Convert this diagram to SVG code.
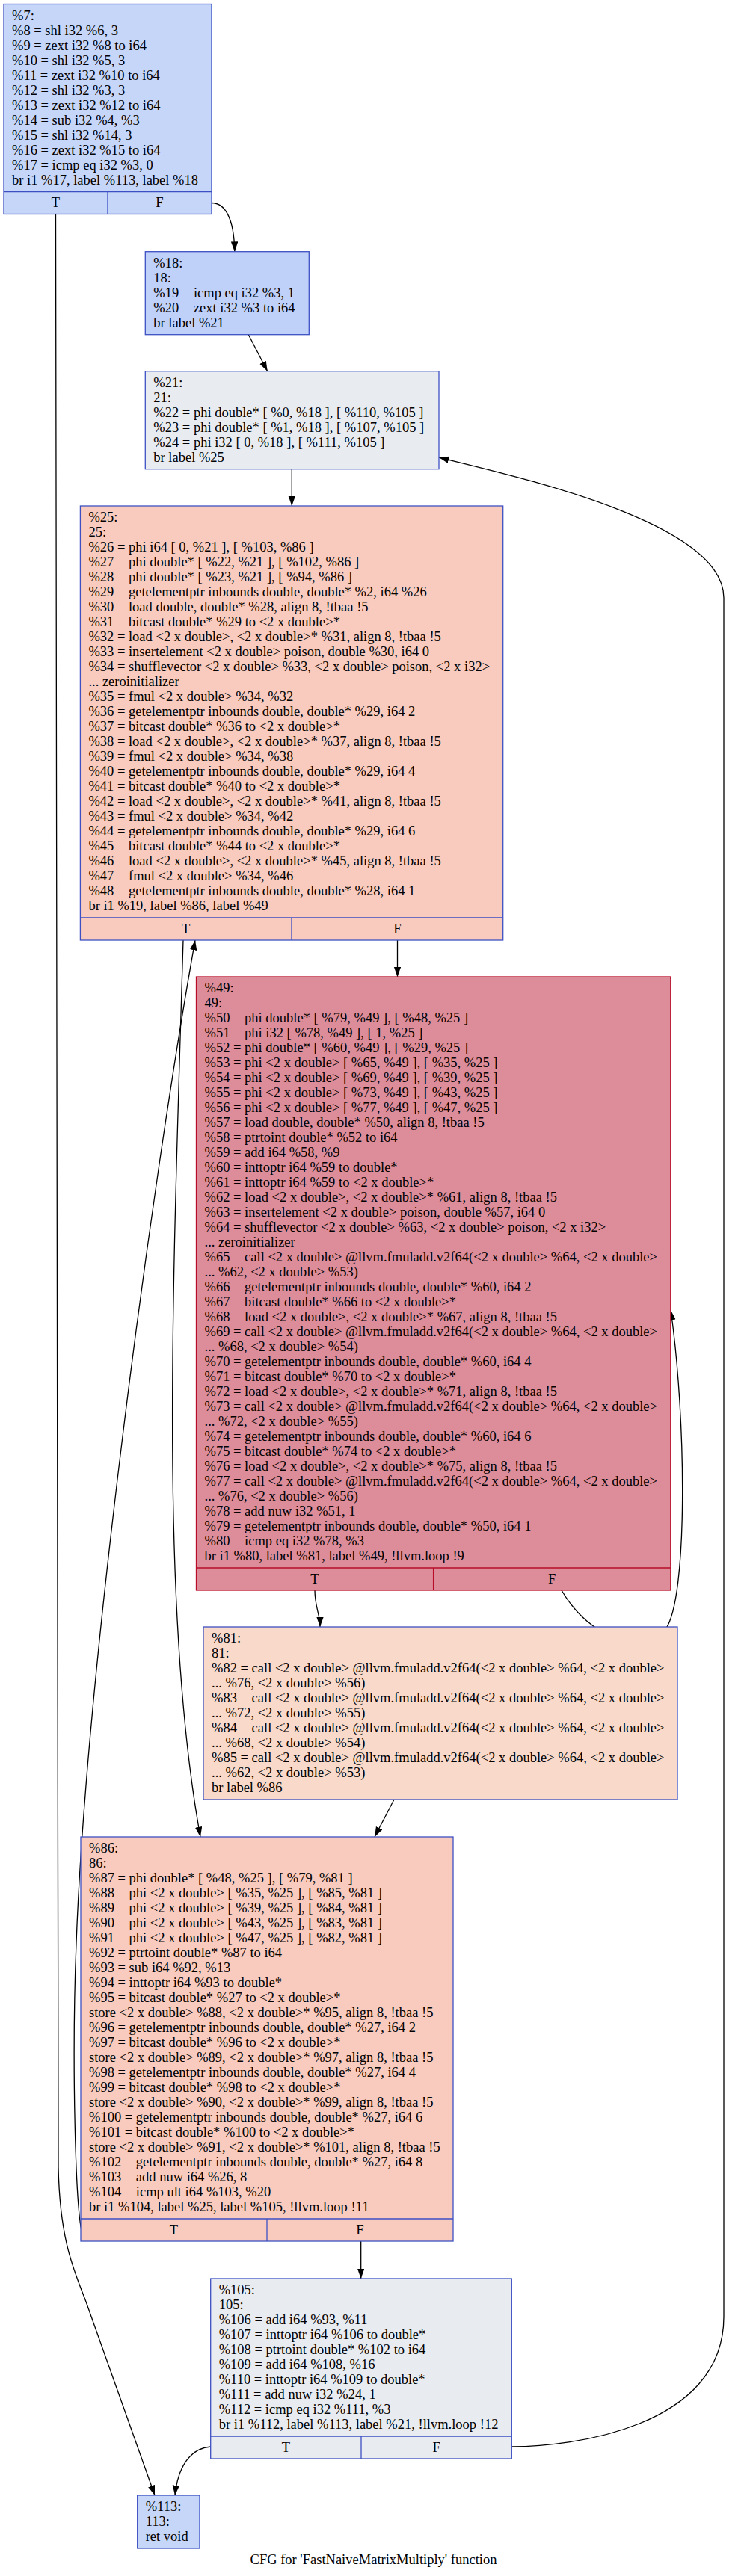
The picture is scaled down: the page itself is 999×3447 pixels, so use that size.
<svg xmlns="http://www.w3.org/2000/svg" width="999" height="3447" viewBox="0 0 999 3447" xml:space="preserve">
<style>
text{font-family:"Liberation Serif","Times New Roman",serif;font-size:18.5px;fill:#000}
.c{text-anchor:middle}
.nb{stroke:#3d50c3;stroke-width:1.3}
.nr{stroke:#b70d28;stroke-width:1.3}
.e{fill:none;stroke:#000;stroke-width:1.3;marker-end:url(#ah)}
</style>
<defs>
<marker id="ah" markerUnits="userSpaceOnUse" markerWidth="14" markerHeight="10" refX="13.3" refY="4.7" orient="auto">
<path d="M0,0 L13.3,4.7 L0,9.4 z" fill="#000"/>
</marker>
</defs>
<rect width="999" height="3447" fill="#fff"/>

<g id="edges">
<path class="e" d="M283,271.5 C300,271.5 313,290 313.8,336.7"/>
<path class="e" d="M74.5,286.5 C74.5,1500 76,2700 78,2900 C80,3000 100,3040 115,3080 L207,3339"/>
<path class="e" d="M332.3,447.7 L357.7,496.7"/>
<path class="e" d="M390.3,627.7 L390.3,677"/>
<path class="e" d="M531.5,1258 L531.5,1307"/>
<path class="e" d="M245,1258 C232,1700 212,2150 268,2458"/>
<path class="e" d="M112,2996 C100,2970 96,2750 102,2600 C115,2250 200,1600 261,1258"/>
<path class="e" d="M421,2128 C421,2150 428,2160 428,2177"/>
<path class="e" d="M751,2128 C790,2195 860,2215 890,2180 C920,2140 918,1900 897,1753"/>
<path class="e" d="M527,2408 L501,2458"/>
<path class="e" d="M482.7,2999 L482.7,3049"/>
<path class="e" d="M281.7,3274 C255,3276 238,3300 234,3339"/>
<path class="e" d="M684.3,3274 C760,3274 968,3250 968,3100 L968,800 C968,700 700,640 587,612"/>
</g>

<g id="n7">
<rect x="5" y="5.5" width="278" height="281" fill="#c6d6f9" class="nb"/>
<path d="M5,256.5 H283 M144,256.5 V286.5" class="nb" fill="none"/>
<text x="16" y="26.5">%7:</text>
<text x="16" y="46.5"> %8 = shl i32 %6, 3</text>
<text x="16" y="66.5"> %9 = zext i32 %8 to i64</text>
<text x="16" y="86.5"> %10 = shl i32 %5, 3</text>
<text x="16" y="106.5"> %11 = zext i32 %10 to i64</text>
<text x="16" y="126.5"> %12 = shl i32 %3, 3</text>
<text x="16" y="146.5"> %13 = zext i32 %12 to i64</text>
<text x="16" y="166.5"> %14 = sub i32 %4, %3</text>
<text x="16" y="186.5"> %15 = shl i32 %14, 3</text>
<text x="16" y="206.5"> %16 = zext i32 %15 to i64</text>
<text x="16" y="226.5"> %17 = icmp eq i32 %3, 0</text>
<text x="16" y="246.5"> br i1 %17, label %113, label %18</text>
<text class="c" x="74.5" y="277">T</text>
<text class="c" x="213.5" y="277">F</text>
</g>

<g id="n18">
<rect x="194.3" y="336.7" width="219" height="111" fill="#bfd0f9" class="nb"/>
<text x="205.3" y="357.7">%18:</text>
<text x="205.3" y="377.7">18:</text>
<text x="205.3" y="397.7"> %19 = icmp eq i32 %3, 1</text>
<text x="205.3" y="417.7"> %20 = zext i32 %3 to i64</text>
<text x="205.3" y="437.7"> br label %21</text>
</g>

<g id="n21">
<rect x="194.3" y="496.7" width="392.7" height="131" fill="#e8ecf1" class="nb"/>
<text x="205.3" y="517.7">%21:</text>
<text x="205.3" y="537.7">21:</text>
<text x="205.3" y="557.7"> %22 = phi double* [ %0, %18 ], [ %110, %105 ]</text>
<text x="205.3" y="577.7"> %23 = phi double* [ %1, %18 ], [ %107, %105 ]</text>
<text x="205.3" y="597.7"> %24 = phi i32 [ 0, %18 ], [ %111, %105 ]</text>
<text x="205.3" y="617.7"> br label %25</text>
</g>

<g id="n25">
<rect x="107.4" y="677" width="565.3" height="581" fill="#f8cbbe" class="nb"/>
<path d="M107.4,1228 H672.7 M390,1228 V1258" class="nb" fill="none"/>
<text x="118.4" y="698">%25:</text>
<text x="118.4" y="718">25:</text>
<text x="118.4" y="738"> %26 = phi i64 [ 0, %21 ], [ %103, %86 ]</text>
<text x="118.4" y="758"> %27 = phi double* [ %22, %21 ], [ %102, %86 ]</text>
<text x="118.4" y="778"> %28 = phi double* [ %23, %21 ], [ %94, %86 ]</text>
<text x="118.4" y="798"> %29 = getelementptr inbounds double, double* %2, i64 %26</text>
<text x="118.4" y="818"> %30 = load double, double* %28, align 8, !tbaa !5</text>
<text x="118.4" y="838"> %31 = bitcast double* %29 to &lt;2 x double&gt;*</text>
<text x="118.4" y="858"> %32 = load &lt;2 x double&gt;, &lt;2 x double&gt;* %31, align 8, !tbaa !5</text>
<text x="118.4" y="878"> %33 = insertelement &lt;2 x double&gt; poison, double %30, i64 0</text>
<text x="118.4" y="898"> %34 = shufflevector &lt;2 x double&gt; %33, &lt;2 x double&gt; poison, &lt;2 x i32&gt;</text>
<text x="118.4" y="918">... zeroinitializer</text>
<text x="118.4" y="938"> %35 = fmul &lt;2 x double&gt; %34, %32</text>
<text x="118.4" y="958"> %36 = getelementptr inbounds double, double* %29, i64 2</text>
<text x="118.4" y="978"> %37 = bitcast double* %36 to &lt;2 x double&gt;*</text>
<text x="118.4" y="998"> %38 = load &lt;2 x double&gt;, &lt;2 x double&gt;* %37, align 8, !tbaa !5</text>
<text x="118.4" y="1018"> %39 = fmul &lt;2 x double&gt; %34, %38</text>
<text x="118.4" y="1038"> %40 = getelementptr inbounds double, double* %29, i64 4</text>
<text x="118.4" y="1058"> %41 = bitcast double* %40 to &lt;2 x double&gt;*</text>
<text x="118.4" y="1078"> %42 = load &lt;2 x double&gt;, &lt;2 x double&gt;* %41, align 8, !tbaa !5</text>
<text x="118.4" y="1098"> %43 = fmul &lt;2 x double&gt; %34, %42</text>
<text x="118.4" y="1118"> %44 = getelementptr inbounds double, double* %29, i64 6</text>
<text x="118.4" y="1138"> %45 = bitcast double* %44 to &lt;2 x double&gt;*</text>
<text x="118.4" y="1158"> %46 = load &lt;2 x double&gt;, &lt;2 x double&gt;* %45, align 8, !tbaa !5</text>
<text x="118.4" y="1178"> %47 = fmul &lt;2 x double&gt; %34, %46</text>
<text x="118.4" y="1198"> %48 = getelementptr inbounds double, double* %28, i64 1</text>
<text x="118.4" y="1218"> br i1 %19, label %86, label %49</text>
<text class="c" x="248.7" y="1248.5">T</text>
<text class="c" x="531.4" y="1248.5">F</text>
</g>

<g id="n49">
<rect x="262.5" y="1307" width="634.3" height="821" fill="#dd8d9a" class="nr"/>
<path d="M262.5,2098 H896.8 M579.6,2098 V2128" class="nr" fill="none"/>
<text x="273.5" y="1328">%49:</text>
<text x="273.5" y="1348">49:</text>
<text x="273.5" y="1368"> %50 = phi double* [ %79, %49 ], [ %48, %25 ]</text>
<text x="273.5" y="1388"> %51 = phi i32 [ %78, %49 ], [ 1, %25 ]</text>
<text x="273.5" y="1408"> %52 = phi double* [ %60, %49 ], [ %29, %25 ]</text>
<text x="273.5" y="1428"> %53 = phi &lt;2 x double&gt; [ %65, %49 ], [ %35, %25 ]</text>
<text x="273.5" y="1448"> %54 = phi &lt;2 x double&gt; [ %69, %49 ], [ %39, %25 ]</text>
<text x="273.5" y="1468"> %55 = phi &lt;2 x double&gt; [ %73, %49 ], [ %43, %25 ]</text>
<text x="273.5" y="1488"> %56 = phi &lt;2 x double&gt; [ %77, %49 ], [ %47, %25 ]</text>
<text x="273.5" y="1508"> %57 = load double, double* %50, align 8, !tbaa !5</text>
<text x="273.5" y="1528"> %58 = ptrtoint double* %52 to i64</text>
<text x="273.5" y="1548"> %59 = add i64 %58, %9</text>
<text x="273.5" y="1568"> %60 = inttoptr i64 %59 to double*</text>
<text x="273.5" y="1588"> %61 = inttoptr i64 %59 to &lt;2 x double&gt;*</text>
<text x="273.5" y="1608"> %62 = load &lt;2 x double&gt;, &lt;2 x double&gt;* %61, align 8, !tbaa !5</text>
<text x="273.5" y="1628"> %63 = insertelement &lt;2 x double&gt; poison, double %57, i64 0</text>
<text x="273.5" y="1648"> %64 = shufflevector &lt;2 x double&gt; %63, &lt;2 x double&gt; poison, &lt;2 x i32&gt;</text>
<text x="273.5" y="1668">... zeroinitializer</text>
<text x="273.5" y="1688"> %65 = call &lt;2 x double&gt; @llvm.fmuladd.v2f64(&lt;2 x double&gt; %64, &lt;2 x double&gt;</text>
<text x="273.5" y="1708">... %62, &lt;2 x double&gt; %53)</text>
<text x="273.5" y="1728"> %66 = getelementptr inbounds double, double* %60, i64 2</text>
<text x="273.5" y="1748"> %67 = bitcast double* %66 to &lt;2 x double&gt;*</text>
<text x="273.5" y="1768"> %68 = load &lt;2 x double&gt;, &lt;2 x double&gt;* %67, align 8, !tbaa !5</text>
<text x="273.5" y="1788"> %69 = call &lt;2 x double&gt; @llvm.fmuladd.v2f64(&lt;2 x double&gt; %64, &lt;2 x double&gt;</text>
<text x="273.5" y="1808">... %68, &lt;2 x double&gt; %54)</text>
<text x="273.5" y="1828"> %70 = getelementptr inbounds double, double* %60, i64 4</text>
<text x="273.5" y="1848"> %71 = bitcast double* %70 to &lt;2 x double&gt;*</text>
<text x="273.5" y="1868"> %72 = load &lt;2 x double&gt;, &lt;2 x double&gt;* %71, align 8, !tbaa !5</text>
<text x="273.5" y="1888"> %73 = call &lt;2 x double&gt; @llvm.fmuladd.v2f64(&lt;2 x double&gt; %64, &lt;2 x double&gt;</text>
<text x="273.5" y="1908">... %72, &lt;2 x double&gt; %55)</text>
<text x="273.5" y="1928"> %74 = getelementptr inbounds double, double* %60, i64 6</text>
<text x="273.5" y="1948"> %75 = bitcast double* %74 to &lt;2 x double&gt;*</text>
<text x="273.5" y="1968"> %76 = load &lt;2 x double&gt;, &lt;2 x double&gt;* %75, align 8, !tbaa !5</text>
<text x="273.5" y="1988"> %77 = call &lt;2 x double&gt; @llvm.fmuladd.v2f64(&lt;2 x double&gt; %64, &lt;2 x double&gt;</text>
<text x="273.5" y="2008">... %76, &lt;2 x double&gt; %56)</text>
<text x="273.5" y="2028"> %78 = add nuw i32 %51, 1</text>
<text x="273.5" y="2048"> %79 = getelementptr inbounds double, double* %50, i64 1</text>
<text x="273.5" y="2068"> %80 = icmp eq i32 %78, %3</text>
<text x="273.5" y="2088"> br i1 %80, label %81, label %49, !llvm.loop !9</text>
<text class="c" x="421" y="2118.5">T</text>
<text class="c" x="738.2" y="2118.5">F</text>
</g>

<g id="n81">
<rect x="272" y="2177" width="634" height="231" fill="#f9d9ca" class="nb"/>
<text x="283" y="2198">%81:</text>
<text x="283" y="2218">81:</text>
<text x="283" y="2238"> %82 = call &lt;2 x double&gt; @llvm.fmuladd.v2f64(&lt;2 x double&gt; %64, &lt;2 x double&gt;</text>
<text x="283" y="2258">... %76, &lt;2 x double&gt; %56)</text>
<text x="283" y="2278"> %83 = call &lt;2 x double&gt; @llvm.fmuladd.v2f64(&lt;2 x double&gt; %64, &lt;2 x double&gt;</text>
<text x="283" y="2298">... %72, &lt;2 x double&gt; %55)</text>
<text x="283" y="2318"> %84 = call &lt;2 x double&gt; @llvm.fmuladd.v2f64(&lt;2 x double&gt; %64, &lt;2 x double&gt;</text>
<text x="283" y="2338">... %68, &lt;2 x double&gt; %54)</text>
<text x="283" y="2358"> %85 = call &lt;2 x double&gt; @llvm.fmuladd.v2f64(&lt;2 x double&gt; %64, &lt;2 x double&gt;</text>
<text x="283" y="2378">... %62, &lt;2 x double&gt; %53)</text>
<text x="283" y="2398"> br label %86</text>
</g>

<g id="n86">
<rect x="108" y="2458" width="498" height="541" fill="#f8cbbe" class="nb"/>
<path d="M108,2969 H606 M357,2969 V2999" class="nb" fill="none"/>
<text x="119" y="2479">%86:</text>
<text x="119" y="2499">86:</text>
<text x="119" y="2519"> %87 = phi double* [ %48, %25 ], [ %79, %81 ]</text>
<text x="119" y="2539"> %88 = phi &lt;2 x double&gt; [ %35, %25 ], [ %85, %81 ]</text>
<text x="119" y="2559"> %89 = phi &lt;2 x double&gt; [ %39, %25 ], [ %84, %81 ]</text>
<text x="119" y="2579"> %90 = phi &lt;2 x double&gt; [ %43, %25 ], [ %83, %81 ]</text>
<text x="119" y="2599"> %91 = phi &lt;2 x double&gt; [ %47, %25 ], [ %82, %81 ]</text>
<text x="119" y="2619"> %92 = ptrtoint double* %87 to i64</text>
<text x="119" y="2639"> %93 = sub i64 %92, %13</text>
<text x="119" y="2659"> %94 = inttoptr i64 %93 to double*</text>
<text x="119" y="2679"> %95 = bitcast double* %27 to &lt;2 x double&gt;*</text>
<text x="119" y="2699"> store &lt;2 x double&gt; %88, &lt;2 x double&gt;* %95, align 8, !tbaa !5</text>
<text x="119" y="2719"> %96 = getelementptr inbounds double, double* %27, i64 2</text>
<text x="119" y="2739"> %97 = bitcast double* %96 to &lt;2 x double&gt;*</text>
<text x="119" y="2759"> store &lt;2 x double&gt; %89, &lt;2 x double&gt;* %97, align 8, !tbaa !5</text>
<text x="119" y="2779"> %98 = getelementptr inbounds double, double* %27, i64 4</text>
<text x="119" y="2799"> %99 = bitcast double* %98 to &lt;2 x double&gt;*</text>
<text x="119" y="2819"> store &lt;2 x double&gt; %90, &lt;2 x double&gt;* %99, align 8, !tbaa !5</text>
<text x="119" y="2839"> %100 = getelementptr inbounds double, double* %27, i64 6</text>
<text x="119" y="2859"> %101 = bitcast double* %100 to &lt;2 x double&gt;*</text>
<text x="119" y="2879"> store &lt;2 x double&gt; %91, &lt;2 x double&gt;* %101, align 8, !tbaa !5</text>
<text x="119" y="2899"> %102 = getelementptr inbounds double, double* %27, i64 8</text>
<text x="119" y="2919"> %103 = add nuw i64 %26, 8</text>
<text x="119" y="2939"> %104 = icmp ult i64 %103, %20</text>
<text x="119" y="2959"> br i1 %104, label %25, label %105, !llvm.loop !11</text>
<text class="c" x="232.5" y="2989.5">T</text>
<text class="c" x="481.5" y="2989.5">F</text>
</g>

<g id="n105">
<rect x="281.7" y="3049" width="402.6" height="241" fill="#e8ecf1" class="nb"/>
<path d="M281.7,3260 H684.3 M483,3260 V3290" class="nb" fill="none"/>
<text x="292.7" y="3070">%105:</text>
<text x="292.7" y="3090">105:</text>
<text x="292.7" y="3110"> %106 = add i64 %93, %11</text>
<text x="292.7" y="3130"> %107 = inttoptr i64 %106 to double*</text>
<text x="292.7" y="3150"> %108 = ptrtoint double* %102 to i64</text>
<text x="292.7" y="3170"> %109 = add i64 %108, %16</text>
<text x="292.7" y="3190"> %110 = inttoptr i64 %109 to double*</text>
<text x="292.7" y="3210"> %111 = add nuw i32 %24, 1</text>
<text x="292.7" y="3230"> %112 = icmp eq i32 %111, %3</text>
<text x="292.7" y="3250"> br i1 %112, label %113, label %21, !llvm.loop !12</text>
<text class="c" x="382.3" y="3280.5">T</text>
<text class="c" x="583.7" y="3280.5">F</text>
</g>

<g id="n113">
<rect x="183.7" y="3339" width="83.3" height="71" fill="#c6d6f9" class="nb"/>
<text x="194.7" y="3360">%113:</text>
<text x="194.7" y="3380">113:</text>
<text x="194.7" y="3400"> ret void</text>
</g>

<text class="c" x="499.5" y="3431">CFG for 'FastNaiveMatrixMultiply' function</text>
</svg>
